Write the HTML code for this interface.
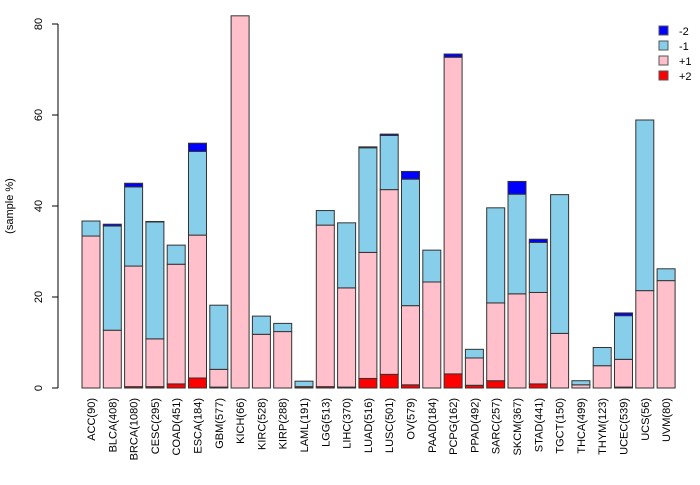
<!DOCTYPE html>
<html><head><meta charset="utf-8"><style>body{margin:0;background:#fff}svg{font-family:"Liberation Sans",sans-serif}</style></head>
<body>
<svg id="chart" width="700" height="480"></svg>
<script>
const categories=["ACC(90)","BLCA(408)","BRCA(1080)","CESC(295)","COAD(451)","ESCA(184)","GBM(577)","KICH(66)","KIRC(528)","KIRP(288)","LAML(191)","LGG(513)","LIHC(370)","LUAD(516)","LUSC(501)","OV(579)","PAAD(184)","PCPG(162)","PPAD(492)","SARC(257)","SKCM(367)","STAD(441)","TGCT(150)","THCA(499)","THYM(123)","UCEC(539)","UCS(56)","UVM(80)"];
const plus2=[0,0,0.3,0.3,0.9,2.2,0.2,0,0,0,0.3,0.3,0.2,2.1,3.0,0.7,0,3.1,0.6,1.6,0,0.9,0,0,0,0.2,0,0];
const plus1=[33.4,12.7,26.5,10.5,26.3,31.4,3.9,81.8,11.8,12.4,0,35.5,21.8,27.7,40.6,17.4,23.3,69.6,6.0,17.1,20.7,20.1,12.0,0.7,4.9,6.1,21.4,23.6];
const minus1=[3.3,22.9,17.4,25.7,4.2,18.4,14.1,0,4.0,1.8,1.2,3.2,14.3,23.0,11.9,27.8,7.0,0,1.9,20.9,21.9,11.0,30.5,0.9,4.0,9.6,37.5,2.6];
const minus2=[0,0.4,0.8,0.1,0,1.8,0,0,0,0,0,0,0,0.2,0.3,1.7,0,0.7,0,0,2.8,0.7,0,0,0,0.6,0,0];
const yTicks=[0,20,40,60,80];
const seriesNames=["-2","-1","+1","+2"];
const seriesColors=["#0000ff","#87ceeb","#ffc0cb","#ff0000"];
const NS="http://www.w3.org/2000/svg";
const svg=document.getElementById("chart");
function y(v){return 388-v*4.55;}
function x(i){return 82+i*21.3;}
const bw=18;
function mk(tag,attrs,parent){const e=document.createElementNS(NS,tag);for(const k in attrs)e.setAttribute(k,attrs[k]);(parent||svg).appendChild(e);return e;}
// y axis
const ax=mk("g",{});


mk("line",{x1:58,x2:58,y1:y(0),y2:y(80),stroke:"#000"},ax);
yTicks.forEach(t=>{
  mk("line",{x1:52,x2:58,y1:y(t),y2:y(t),stroke:"#000"},ax);
  const tx=mk("text",{x:0,y:0,transform:`translate(42,${y(t)}) rotate(-90)`,"text-anchor":"middle","font-size":11},ax);
  tx.textContent=t;
  
  
});
const yt=mk("text",{transform:"translate(13,206) rotate(-90)","text-anchor":"middle","font-size":11});
yt.textContent="(sample %)";


// bars
const series=[plus2,plus1,minus1,minus2];
const cols=["#ff0000","#ffc0cb","#87ceeb","#0000ff"];
const names=["plus2","plus1","minus1","minus2"];
categories.forEach((c,i)=>{
  let base=0;
  series.forEach((s,k)=>{
    const v=s[i];
    const r=mk("rect",{x:x(i),y:y(base+v),width:bw,height:Math.max(0,v*4.55),fill:cols[k],stroke:"#333","stroke-width":1});
    
    
    base+=v;
  });
  const t=mk("text",{transform:`translate(${x(i)+bw/2+4},398) rotate(-90)`,"text-anchor":"end","font-size":11});
  t.textContent=c;
  
  
});
// legend
seriesNames.forEach((n,k)=>{
  const r=mk("rect",{x:659,y:26+k*15,width:9,height:9,fill:seriesColors[k],stroke:"#555"});
  
  
  const t=mk("text",{x:679,y:35+k*15,"font-size":11});
  t.textContent=n;
  
  
});
</script>
</body></html>
